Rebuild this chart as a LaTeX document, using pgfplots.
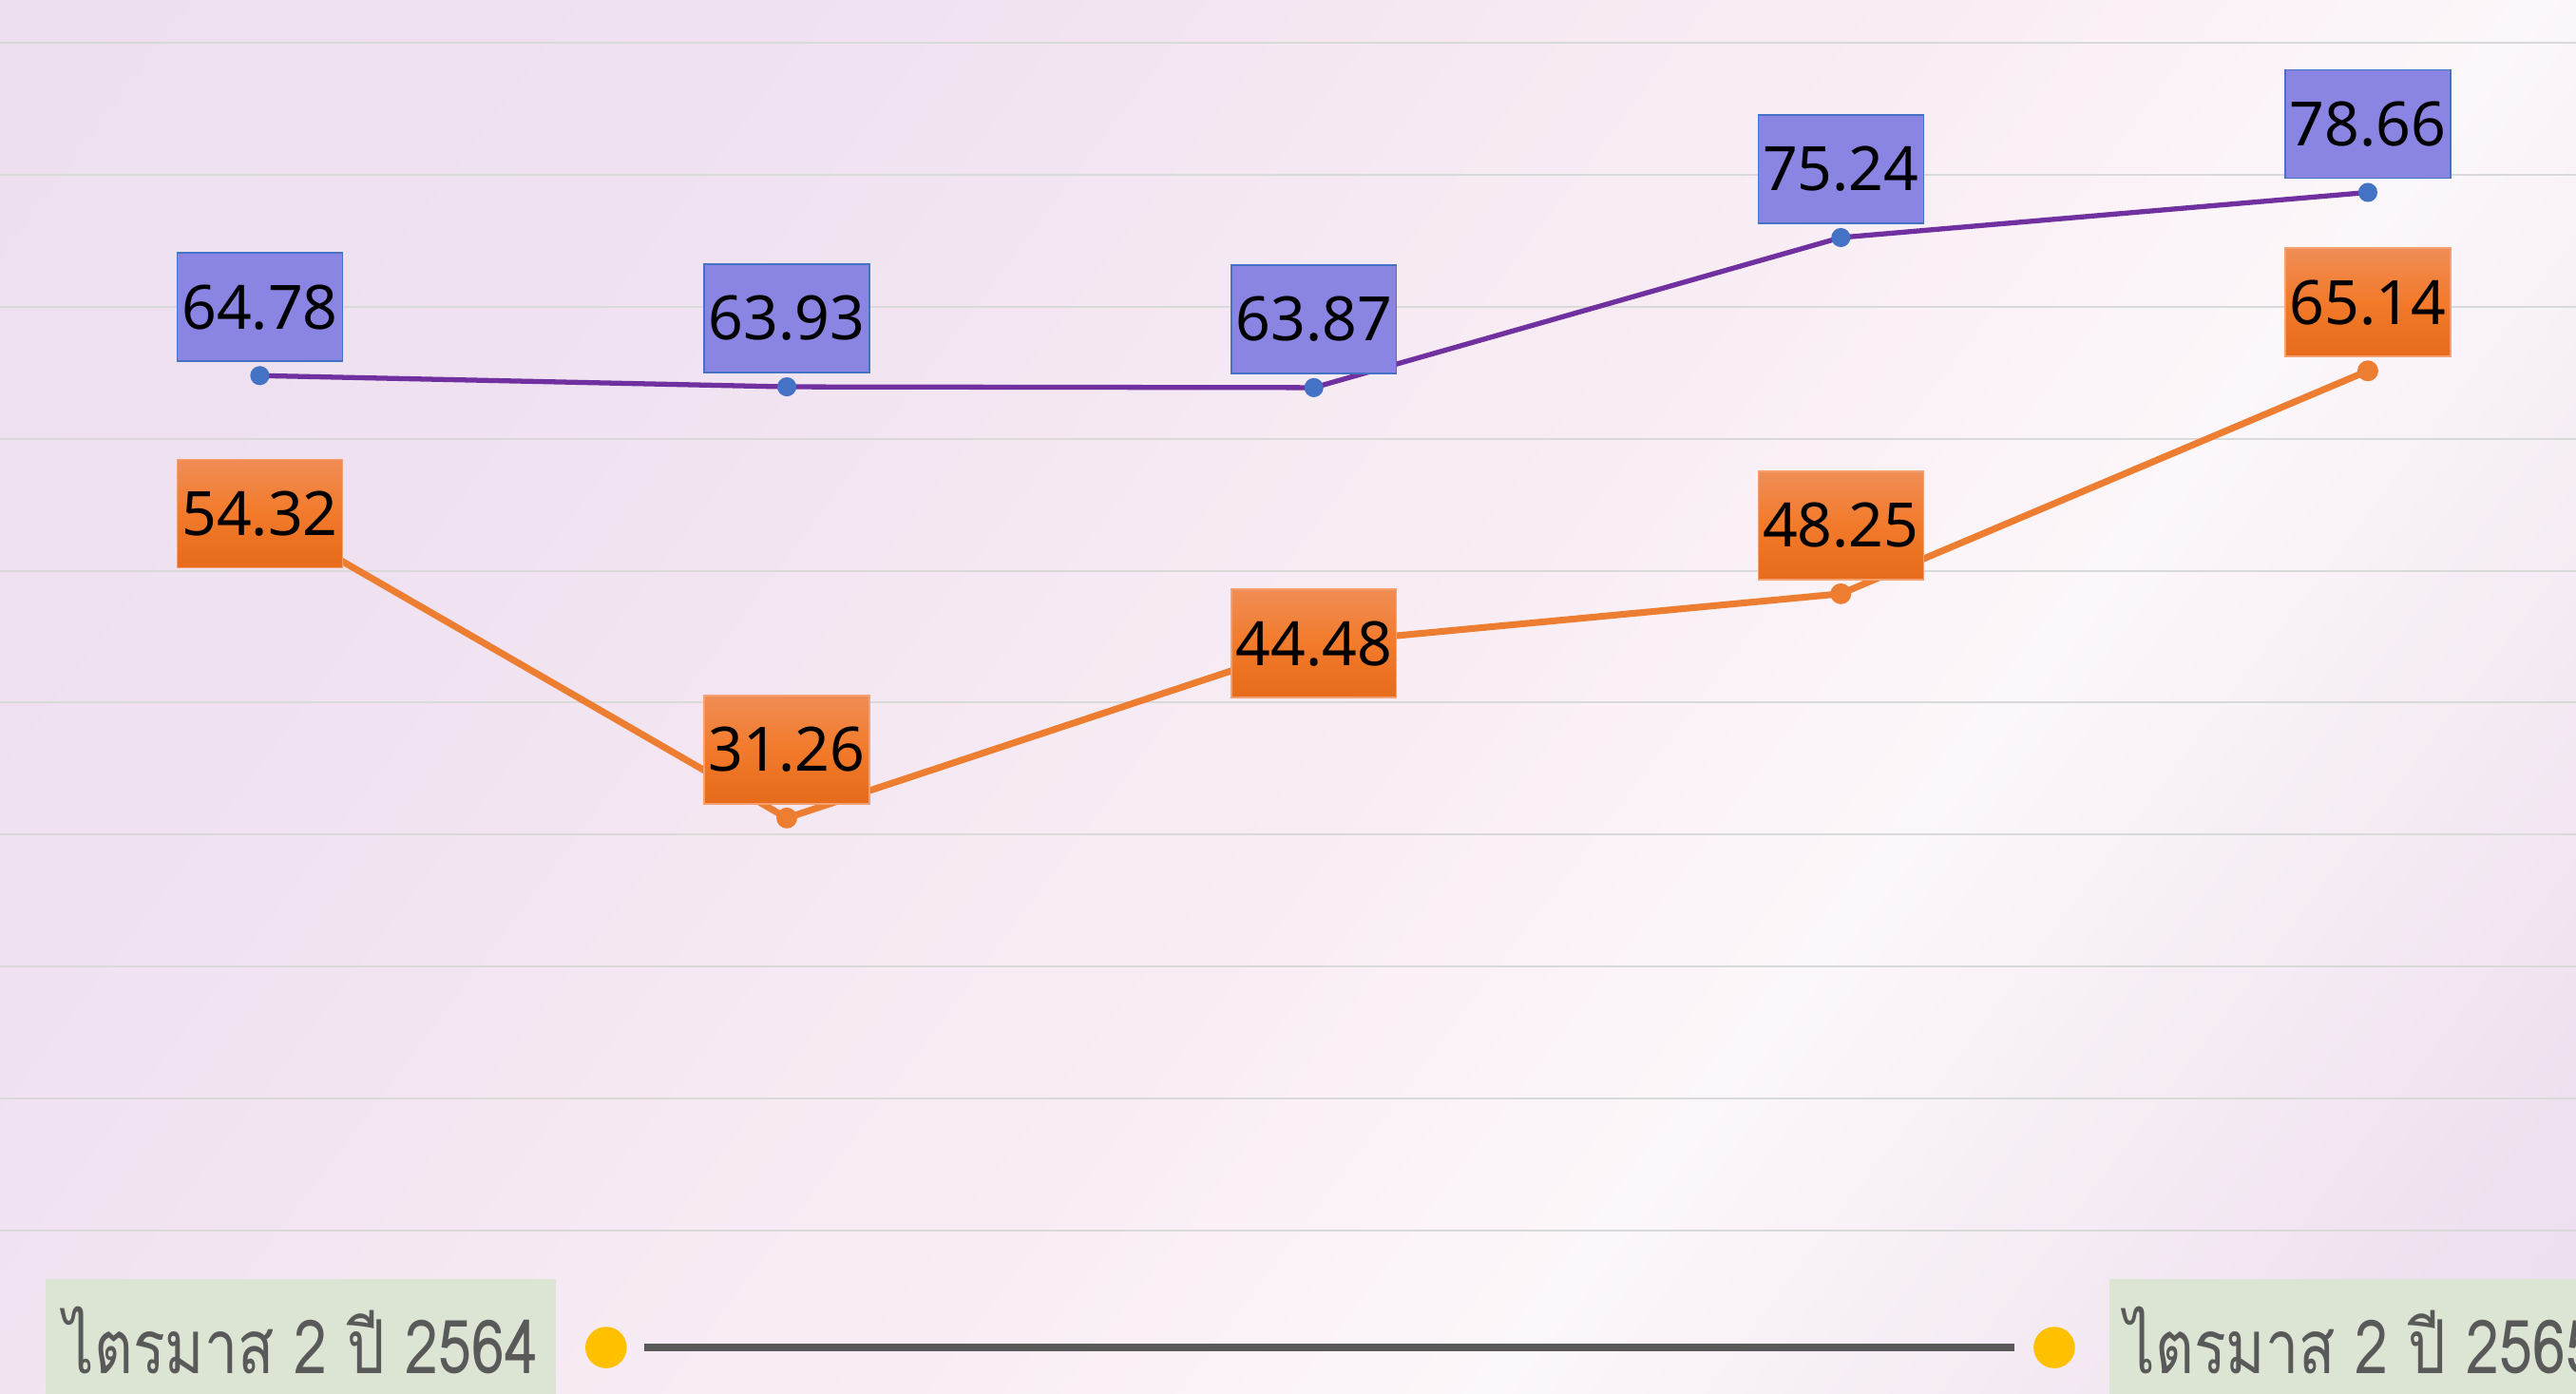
\documentclass[border=0pt]{standalone}
\usepackage{fontspec}
\usepackage{pgfplots}
\pgfplotsset{compat=1.18}
\newfontfamily\valfont{Noto Sans}
\newfontfamily\thaifont[Script=Thai,FakeStretch=0.8]{Loma}
\definecolor{bgA}{HTML}{ECDFEE}
\definecolor{bgB}{HTML}{EFE1F0}
\definecolor{bgC}{HTML}{F9EEF5}
\definecolor{bgD}{HTML}{FCF7FA}
\definecolor{bgE}{HTML}{EEE1EF}
\definecolor{bgF}{HTML}{EBDDEE}
\definecolor{gridc}{HTML}{D9D9D9}
\definecolor{purp}{HTML}{7030A0}
\definecolor{blu}{HTML}{4472C4}
\definecolor{orng}{HTML}{ED7D31}
\definecolor{pbox}{HTML}{8A84E2}
\definecolor{orT}{HTML}{F08D55}
\definecolor{orM}{HTML}{F27A2A}
\definecolor{orB}{HTML}{E66B1A}
\definecolor{orBd}{HTML}{F4A070}
\definecolor{sage}{HTML}{DCE4D3}
\definecolor{tgray}{HTML}{595959}
\definecolor{gold}{HTML}{FFC000}
\pgfdeclarehorizontalshading{bgshade}{100bp}{color(0bp)=(bgA); color(26.54bp)=(bgA); color(36.56bp)=(bgB); color(52.74bp)=(bgC); color(59.45bp)=(bgD); color(70.56bp)=(bgE); color(73.46bp)=(bgF); color(100bp)=(bgF)}
\pgfplotsset{
  lblbase/.style={draw=none, mark=none, point meta=explicit symbolic,
    nodes near coords={\raisebox{-2pt}{\pgfplotspointmeta}},
    every node near coord/.style={anchor=center, minimum width=49.5pt, minimum height=32.4pt, inner sep=0pt, font=\valfont\fontsize{18.3}{20}\selectfont, text=black}},
  plbl/.style={lblbase, every node near coord/.append style={fill=pbox, draw=blu, line width=0.45pt, yshift=20.5pt}},
  olblup/.style={lblbase, every node near coord/.append style={top color=orT, bottom color=orB, middle color=orM, draw=orBd, line width=0.45pt, yshift=20.5pt}},
  olblc/.style={lblbase, every node near coord/.append style={top color=orT, bottom color=orB, middle color=orM, draw=orBd, line width=0.45pt}},
}
\begin{document}
\begin{tikzpicture}
\useasboundingbox (0,0) rectangle (27.11,14.66);
\clip (0,0) rectangle (27.11,14.66);
\begin{scope}[transform canvas={rotate around={-37:(0,14.66)}}]
\shade[shading=bgshade] (-1,-5.34) rectangle (31.44,34.66);
\end{scope}
\begin{axis}[at={(0,0)}, anchor=south west, scale only axis,
  width=27.11cm, height=14.66cm,
  xmin=-0.493, xmax=4.395, ymin=-12.31, ymax=93.24,
  axis line style={draw=none}, xtick=\empty,
  ytick={0,10,...,90}, yticklabels={}, major tick length=0pt,
  ymajorgrids, grid style={color=gridc, line width=0.55pt},
  clip=false]
% timeline
\fill[sage] (axis cs:-0.406,-3.67) rectangle (axis cs:0.562,-14);
\fill[sage] (axis cs:3.510,-3.67) rectangle (axis cs:5,-14);
\addplot[color=tgray, line width=2.3pt] coordinates {(0.730,-8.86) (3.330,-8.86)};
\addplot[only marks, mark=*, mark size=6pt, color=gold, mark options={fill=gold, draw=gold}] coordinates {(0.657,-8.86) (3.405,-8.86)};
\node[anchor=base west, inner sep=0pt, text=tgray, font=\thaifont\fontsize{22.3}{24}\selectfont] at (axis cs:-0.372,-10.85) {ไตรมาส 2 ปี 2564};
\node[anchor=base west, inner sep=0pt, text=tgray, font=\thaifont\fontsize{22.3}{24}\selectfont] at (axis cs:3.539,-10.85) {ไตรมาส 2 ปี 2565};
% lines
\addplot[color=purp, line width=1.5pt, mark=*, mark size=2.1pt, mark options={fill=blu, draw=blu}] coordinates {(0,64.78) (1,63.93) (2,63.87) (3,75.24) (4,78.66)};
\addplot[color=orng, line width=2pt, mark=*, mark size=2.1pt, mark options={fill=orng, draw=orng}] coordinates {(0,54.32) (1,31.26) (2,44.48) (3,48.25) (4,65.14)};
% labels
\addplot[plbl] coordinates {(0,64.78) [64.78] (1,63.93) [63.93] (2,63.87) [63.87] (3,75.24) [75.24] (4,78.66) [78.66]};
\addplot[olblup] coordinates {(1,31.26) [31.26] (3,48.25) [48.25] (4,65.14) [65.14]};
\addplot[olblc] coordinates {(0,54.32) [54.32] (2,44.48) [44.48]};
\end{axis}
\end{tikzpicture}
\end{document}
